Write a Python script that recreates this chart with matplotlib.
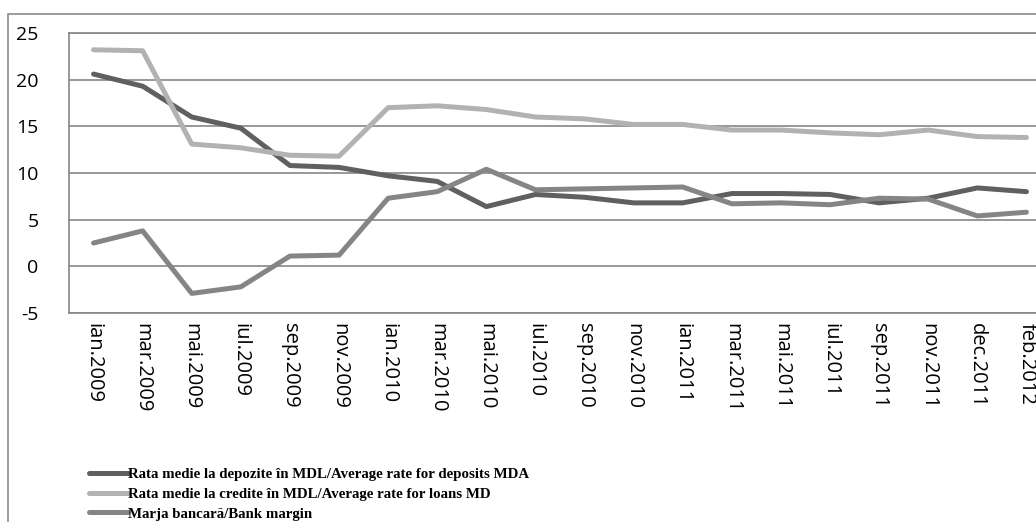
import numpy as np
import matplotlib
matplotlib.use('Agg')
import matplotlib.pyplot as plt
from matplotlib.patches import Rectangle

months = ['ian.2009', 'mar.2009', 'mai.2009', 'iul.2009', 'sep.2009', 'nov.2009',
          'ian.2010', 'mar.2010', 'mai.2010', 'iul.2010', 'sep.2010', 'nov.2010',
          'ian.2011', 'mar.2011', 'mai.2011', 'iul.2011', 'sep.2011', 'nov.2011',
          'dec.2011', 'feb.2012']

deposits = [20.6, 19.3, 16.0, 14.8, 10.8, 10.6, 9.7, 9.1, 6.4, 7.7, 7.4, 6.8,
            6.8, 7.8, 7.8, 7.7, 6.8, 7.3, 8.4, 8.0]
loans = [23.2, 23.1, 13.1, 12.7, 11.9, 11.8, 17.0, 17.2, 16.8, 16.0, 15.8, 15.2,
         15.2, 14.6, 14.6, 14.3, 14.1, 14.6, 13.9, 13.8]
margin = [2.5, 3.8, -2.9, -2.2, 1.1, 1.2, 7.3, 8.0, 10.4, 8.2, 8.3, 8.4,
          8.5, 6.7, 6.8, 6.6, 7.3, 7.2, 5.4, 5.8]

labels = ['Rata medie la depozite în MDL/Average rate for deposits MDA',
          'Rata medie la credite în MDL/Average rate for loans MD',
          'Marja bancară/Bank margin']
colors = ['#606060', '#b2b2b2', '#858585']

W, H = 1036, 522
fig = plt.figure(figsize=(W / 100, H / 100), dpi=100)

# outer chart frame (runs off the right/bottom of the picture)
fig.patches.append(Rectangle((8 / W, -0.2), 1.5, 1 - 14 / H + 0.2,
                             transform=fig.transFigure, fill=False,
                             edgecolor='#8c8c8c', linewidth=1.2))

left, right = 69, 1051
top, bottom = 33, 313
ax = fig.add_axes([left / W, 1 - bottom / H, (right - left) / W, (bottom - top) / H])

x = np.arange(len(months))
for series, c, lab in zip([deposits, loans, margin], colors, labels):
    ax.plot(x, series, color=c, lw=3.6, label=lab,
            solid_capstyle='round', solid_joinstyle='round')

ax.set_xlim(-0.5, len(months) - 0.5)
ax.set_ylim(-5, 25)
ax.set_yticks(np.arange(-5, 26, 5))
ax.set_yticklabels([str(v) for v in range(-5, 26, 5)], fontsize=14, family='Open Sans')
ax.set_xticks(x)
ax.set_xticklabels(months, rotation=270, fontsize=14.5, family='Open Sans',
                   ha='center', va='top')
ax.tick_params(axis='y', length=0, pad=22)
ax.tick_params(axis='x', length=0, pad=7)
ax.grid(axis='y', color='#868686', lw=1.2)
ax.set_axisbelow(True)
ax.spines['right'].set_visible(False)
for s in ['left', 'bottom', 'top']:
    ax.spines[s].set_color('#868686')
    ax.spines[s].set_linewidth(1.2)

fig.legend(loc='upper left', bbox_to_anchor=(89 / W, 1 - 468 / H),
           frameon=False, handlelength=2.6, handletextpad=0.0,
           labelspacing=0.42, borderaxespad=0, borderpad=0,
           prop=dict(family='Liberation Serif', weight='bold', size=10.7))

fig.savefig('out.png', dpi=100)
